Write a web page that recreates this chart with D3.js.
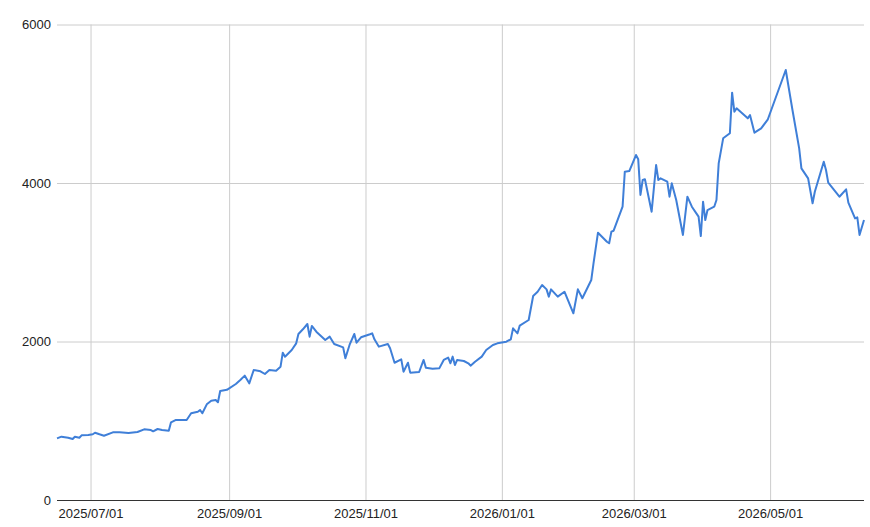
<!DOCTYPE html>
<html>
<head>
<meta charset="utf-8">
<title>Price line</title>
<script src="https://d3js.org/d3.v7.min.js"></script>
<style>
  body { margin: 0; background: #fff; }
  text { font-family: "Liberation Sans", Arial, sans-serif; }
</style>
</head>
<body>
<script>
const dates = [
  "2025-06-16","2025-06-18","2025-06-21","2025-06-23","2025-06-24","2025-06-26","2025-06-27","2025-06-30",
  "2025-07-02","2025-07-03","2025-07-05","2025-07-07","2025-07-11","2025-07-14","2025-07-18","2025-07-22",
  "2025-07-25","2025-07-28","2025-07-29","2025-07-31","2025-08-02","2025-08-05","2025-08-06","2025-08-08",
  "2025-08-13","2025-08-15","2025-08-18","2025-08-19","2025-08-20","2025-08-22","2025-08-24","2025-08-26",
  "2025-08-27","2025-08-28","2025-08-31","2025-09-04","2025-09-06","2025-09-08","2025-09-10","2025-09-12",
  "2025-09-15","2025-09-17","2025-09-19","2025-09-22","2025-09-24","2025-09-25","2025-09-26","2025-09-29",
  "2025-10-01","2025-10-02","2025-10-04","2025-10-06","2025-10-07","2025-10-08","2025-10-10","2025-10-14",
  "2025-10-16","2025-10-18","2025-10-22","2025-10-23","2025-10-25","2025-10-27","2025-10-28","2025-10-30",
  "2025-11-03","2025-11-04","2025-11-05","2025-11-07","2025-11-11","2025-11-12","2025-11-14","2025-11-17",
  "2025-11-18","2025-11-20","2025-11-21","2025-11-25","2025-11-27","2025-11-28","2025-12-01","2025-12-04",
  "2025-12-06","2025-12-08","2025-12-09","2025-12-10","2025-12-11","2025-12-12","2025-12-15","2025-12-17",
  "2025-12-18","2025-12-20","2025-12-23","2025-12-25","2025-12-28","2025-12-30","2026-01-03","2026-01-05",
  "2026-01-06","2026-01-08","2026-01-09","2026-01-13","2026-01-15","2026-01-17","2026-01-19","2026-01-21",
  "2026-01-22","2026-01-23","2026-01-26","2026-01-29","2026-02-02","2026-02-04","2026-02-06","2026-02-10",
  "2026-02-11","2026-02-13","2026-02-17","2026-02-18","2026-02-19","2026-02-20","2026-02-24","2026-02-25",
  "2026-02-27","2026-03-02","2026-03-03","2026-03-04","2026-03-05","2026-03-06","2026-03-09","2026-03-11",
  "2026-03-12","2026-03-13","2026-03-16","2026-03-17","2026-03-18","2026-03-20","2026-03-23","2026-03-25",
  "2026-03-27","2026-03-29","2026-03-30","2026-03-31","2026-04-01","2026-04-02","2026-04-03","2026-04-06",
  "2026-04-07","2026-04-08","2026-04-10","2026-04-13","2026-04-14","2026-04-15","2026-04-16","2026-04-21",
  "2026-04-22","2026-04-24","2026-04-27","2026-04-30","2026-05-08","2026-05-11","2026-05-14","2026-05-15",
  "2026-05-18","2026-05-20","2026-05-21","2026-05-25","2026-05-26","2026-05-27","2026-06-01","2026-06-04",
  "2026-06-05","2026-06-08","2026-06-09","2026-06-10","2026-06-12"
];
const values = [
  778, 799, 786, 770, 799, 786, 816, 820,
  829, 849, 829, 811, 854, 854, 845, 858,
  892, 883, 867, 896, 883, 875, 980, 1009,
  1009, 1094, 1114, 1136, 1094, 1207, 1253, 1262,
  1233, 1375, 1390, 1464, 1514, 1569, 1472, 1640,
  1624, 1590, 1640, 1632, 1682, 1859, 1808, 1893,
  1977, 2095, 2154, 2221, 2061, 2196, 2124, 2019,
  2061, 1968, 1926, 1788, 1968, 2095, 1985, 2053,
  2091, 2103, 2028, 1935, 1968, 1914, 1732, 1775,
  1619, 1732, 1607, 1615, 1767, 1670, 1657, 1661,
  1767, 1796, 1725, 1809, 1703, 1767, 1754, 1725,
  1695, 1745, 1809, 1893, 1956, 1977, 1997, 2028,
  2166, 2103, 2200, 2271, 2574, 2628, 2713, 2658,
  2566, 2658, 2566, 2628, 2356, 2658, 2545, 2776,
  2986, 3373, 3259, 3239, 3386, 3398, 3701, 4143,
  4151, 4353, 4300, 3849, 4038, 4047, 3638, 4227,
  4038, 4059, 4017, 3827, 3996, 3785, 3344, 3827,
  3701, 3617, 3575, 3331, 3764, 3533, 3659, 3701,
  3785, 4248, 4564, 4627, 5140, 4900, 4942, 4816,
  4858, 4635, 4690, 4804, 5426, 4921, 4437, 4185,
  4059, 3744, 3890, 4269, 4164, 4004, 3827, 3920,
  3752, 3554, 3567, 3344, 3533
];
const yTicks = [0, 2000, 4000, 6000];
const xTicks = ["2025-07-01","2025-09-01","2025-11-01","2026-01-01","2026-03-01","2026-05-01"];

const width = 870;
const height = 527;
const margin = { top: 24.5, right: 6, bottom: 27, left: 57 };

const parse = d3.timeParse("%Y-%m-%d");
const data = dates.map((d, i) => ({ date: parse(d), value: values[i] }));

const x = d3.scaleTime()
    .domain(d3.extent(data, d => d.date))
    .range([margin.left, width - margin.right]);
const y = d3.scaleLinear()
    .domain([0, 6000])
    .range([height - margin.bottom, margin.top]);

const svg = d3.select("body").append("svg")
    .attr("width", width)
    .attr("height", height);

// vertical grid + date labels
const xAxis = d3.axisBottom(x)
    .tickValues(xTicks.map(parse))
    .tickFormat(d3.timeFormat("%Y/%m/%d"))
    .tickSize(-(height - margin.top - margin.bottom))
    .tickPadding(9);
const gx = svg.append("g")
    .attr("transform", `translate(0,${height - margin.bottom})`)
    .call(xAxis);
gx.select(".domain").remove();
gx.selectAll(".tick line").attr("stroke", "#cccccc").attr("stroke-width", 1);
gx.selectAll(".tick text").attr("fill", "#222").style("font-size", "13px");

// horizontal grid + value labels
const yAxis = d3.axisLeft(y)
    .tickValues(yTicks)
    .tickFormat(d3.format("d"))
    .tickSize(-(width - margin.left - margin.right))
    .tickPadding(6);
const gy = svg.append("g")
    .attr("transform", `translate(${margin.left},0)`)
    .call(yAxis);
gy.select(".domain").remove();
gy.selectAll(".tick line")
    .attr("stroke", d => d === 0 ? "#333" : "#cccccc")
    .attr("stroke-width", 1);
gy.selectAll(".tick text").attr("fill", "#222").style("font-size", "13px");

const line = d3.line()
    .x(d => x(d.date))
    .y(d => y(d.value));

svg.append("path")
    .datum(data)
    .attr("fill", "none")
    .attr("stroke", "#3f7fd8")
    .attr("stroke-width", 2)
    .attr("stroke-linejoin", "round")
    .attr("d", line);
</script>
</body>
</html>
